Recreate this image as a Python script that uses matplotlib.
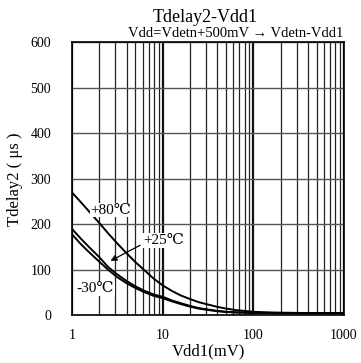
import matplotlib
matplotlib.use("Agg")
import matplotlib.pyplot as plt
from matplotlib.ticker import LogLocator, FixedLocator, NullFormatter

# Vdd1 (mV)
vdd1 = [1, 1.26, 1.58, 2, 2.51, 3.16, 3.98, 5.01, 6.31, 7.94, 10, 12.6, 15.8,
        20, 25.1, 31.6, 39.8, 50.1, 63.1, 79.4, 100, 158, 316, 1000]
# Tdelay2 (us)
t_80 = [270, 248, 226, 203, 180, 158, 137, 117, 99, 81, 66, 54, 44,
        36, 29, 24, 19, 15, 12, 10, 8, 6.5, 5.5, 5]
t_25 = [190, 168, 148, 128, 106, 90, 76, 64, 54, 46, 41, 33, 27,
        21, 16, 13, 10, 8, 7, 6.5, 6, 5.5, 5, 5]
t_m30 = [178, 156, 137, 118, 100, 84, 71, 60, 51, 43, 38, 31, 25,
         19.5, 15, 12, 9.5, 7.5, 6.5, 6, 5.5, 5, 5, 5]

x_ticks = [1, 10, 100, 1000]
y_ticks = [0, 100, 200, 300, 400, 500, 600]

plt.rcParams['font.family'] = ['Liberation Serif', 'DejaVu Serif']

fig = plt.figure(figsize=(3.61, 3.63), dpi=100)
ax = fig.add_axes([0.1994, 0.131, 0.7536, 0.753])

ax.set_xscale('log')
ax.set_xlim(1, 1000)
ax.set_ylim(0, 600)

# grid: vertical lines at every log step, horizontal every 100
ax.xaxis.set_major_locator(FixedLocator(x_ticks))
ax.xaxis.set_minor_locator(LogLocator(base=10, subs=range(2, 10)))
ax.xaxis.set_minor_formatter(NullFormatter())
ax.set_xticks(x_ticks)
ax.set_xticklabels([str(v) for v in x_ticks])
ax.set_yticks(y_ticks)
ax.grid(True, which='minor', axis='x', color='#222222', linewidth=0.9)
ax.grid(True, which='major', axis='x', color='#111111', linewidth=1.6)
ax.grid(True, which='major', axis='y', color='#555555', linewidth=1.0)
ax.tick_params(which='both', length=0, labelsize=10)
ax.tick_params(axis='y', pad=15)
ax.tick_params(axis='x', pad=10)
for s in ax.spines.values():
    s.set_linewidth(1.2)

ax.plot(vdd1, t_80, color='black', linewidth=1.4)
ax.plot(vdd1, t_25, color='black', linewidth=1.4)
ax.plot(vdd1, t_m30, color='black', linewidth=1.4)

box = dict(facecolor='white', edgecolor='none', pad=0.5)
ax.text(2.7, 231, '+80℃', fontsize=11, ha='center', va='center', bbox=box)
ax.text(10.2, 164, '+25℃', fontsize=11, ha='center', va='center', bbox=box)
ax.text(1.8, 59, '-30℃', fontsize=11, ha='center', va='center', bbox=box)
ax.annotate('', xy=(2.5, 117), xytext=(6.0, 157),
            arrowprops=dict(arrowstyle='-|>', color='black', lw=0.9,
                            mutation_scale=9))

ax.set_xlabel('Vdd1(mV)', fontsize=12, labelpad=1)
ax.set_ylabel('Tdelay2 ( μs )', fontsize=12, labelpad=5)

fig.text(0.568, 0.953, 'Tdelay2-Vdd1', fontsize=13, ha='center', va='center')
fig.text(0.952, 0.909, 'Vdd=Vdetn+500mV → Vdetn-Vdd1', fontsize=10.5,
         ha='right', va='center')

fig.savefig('out.png', dpi=100)
